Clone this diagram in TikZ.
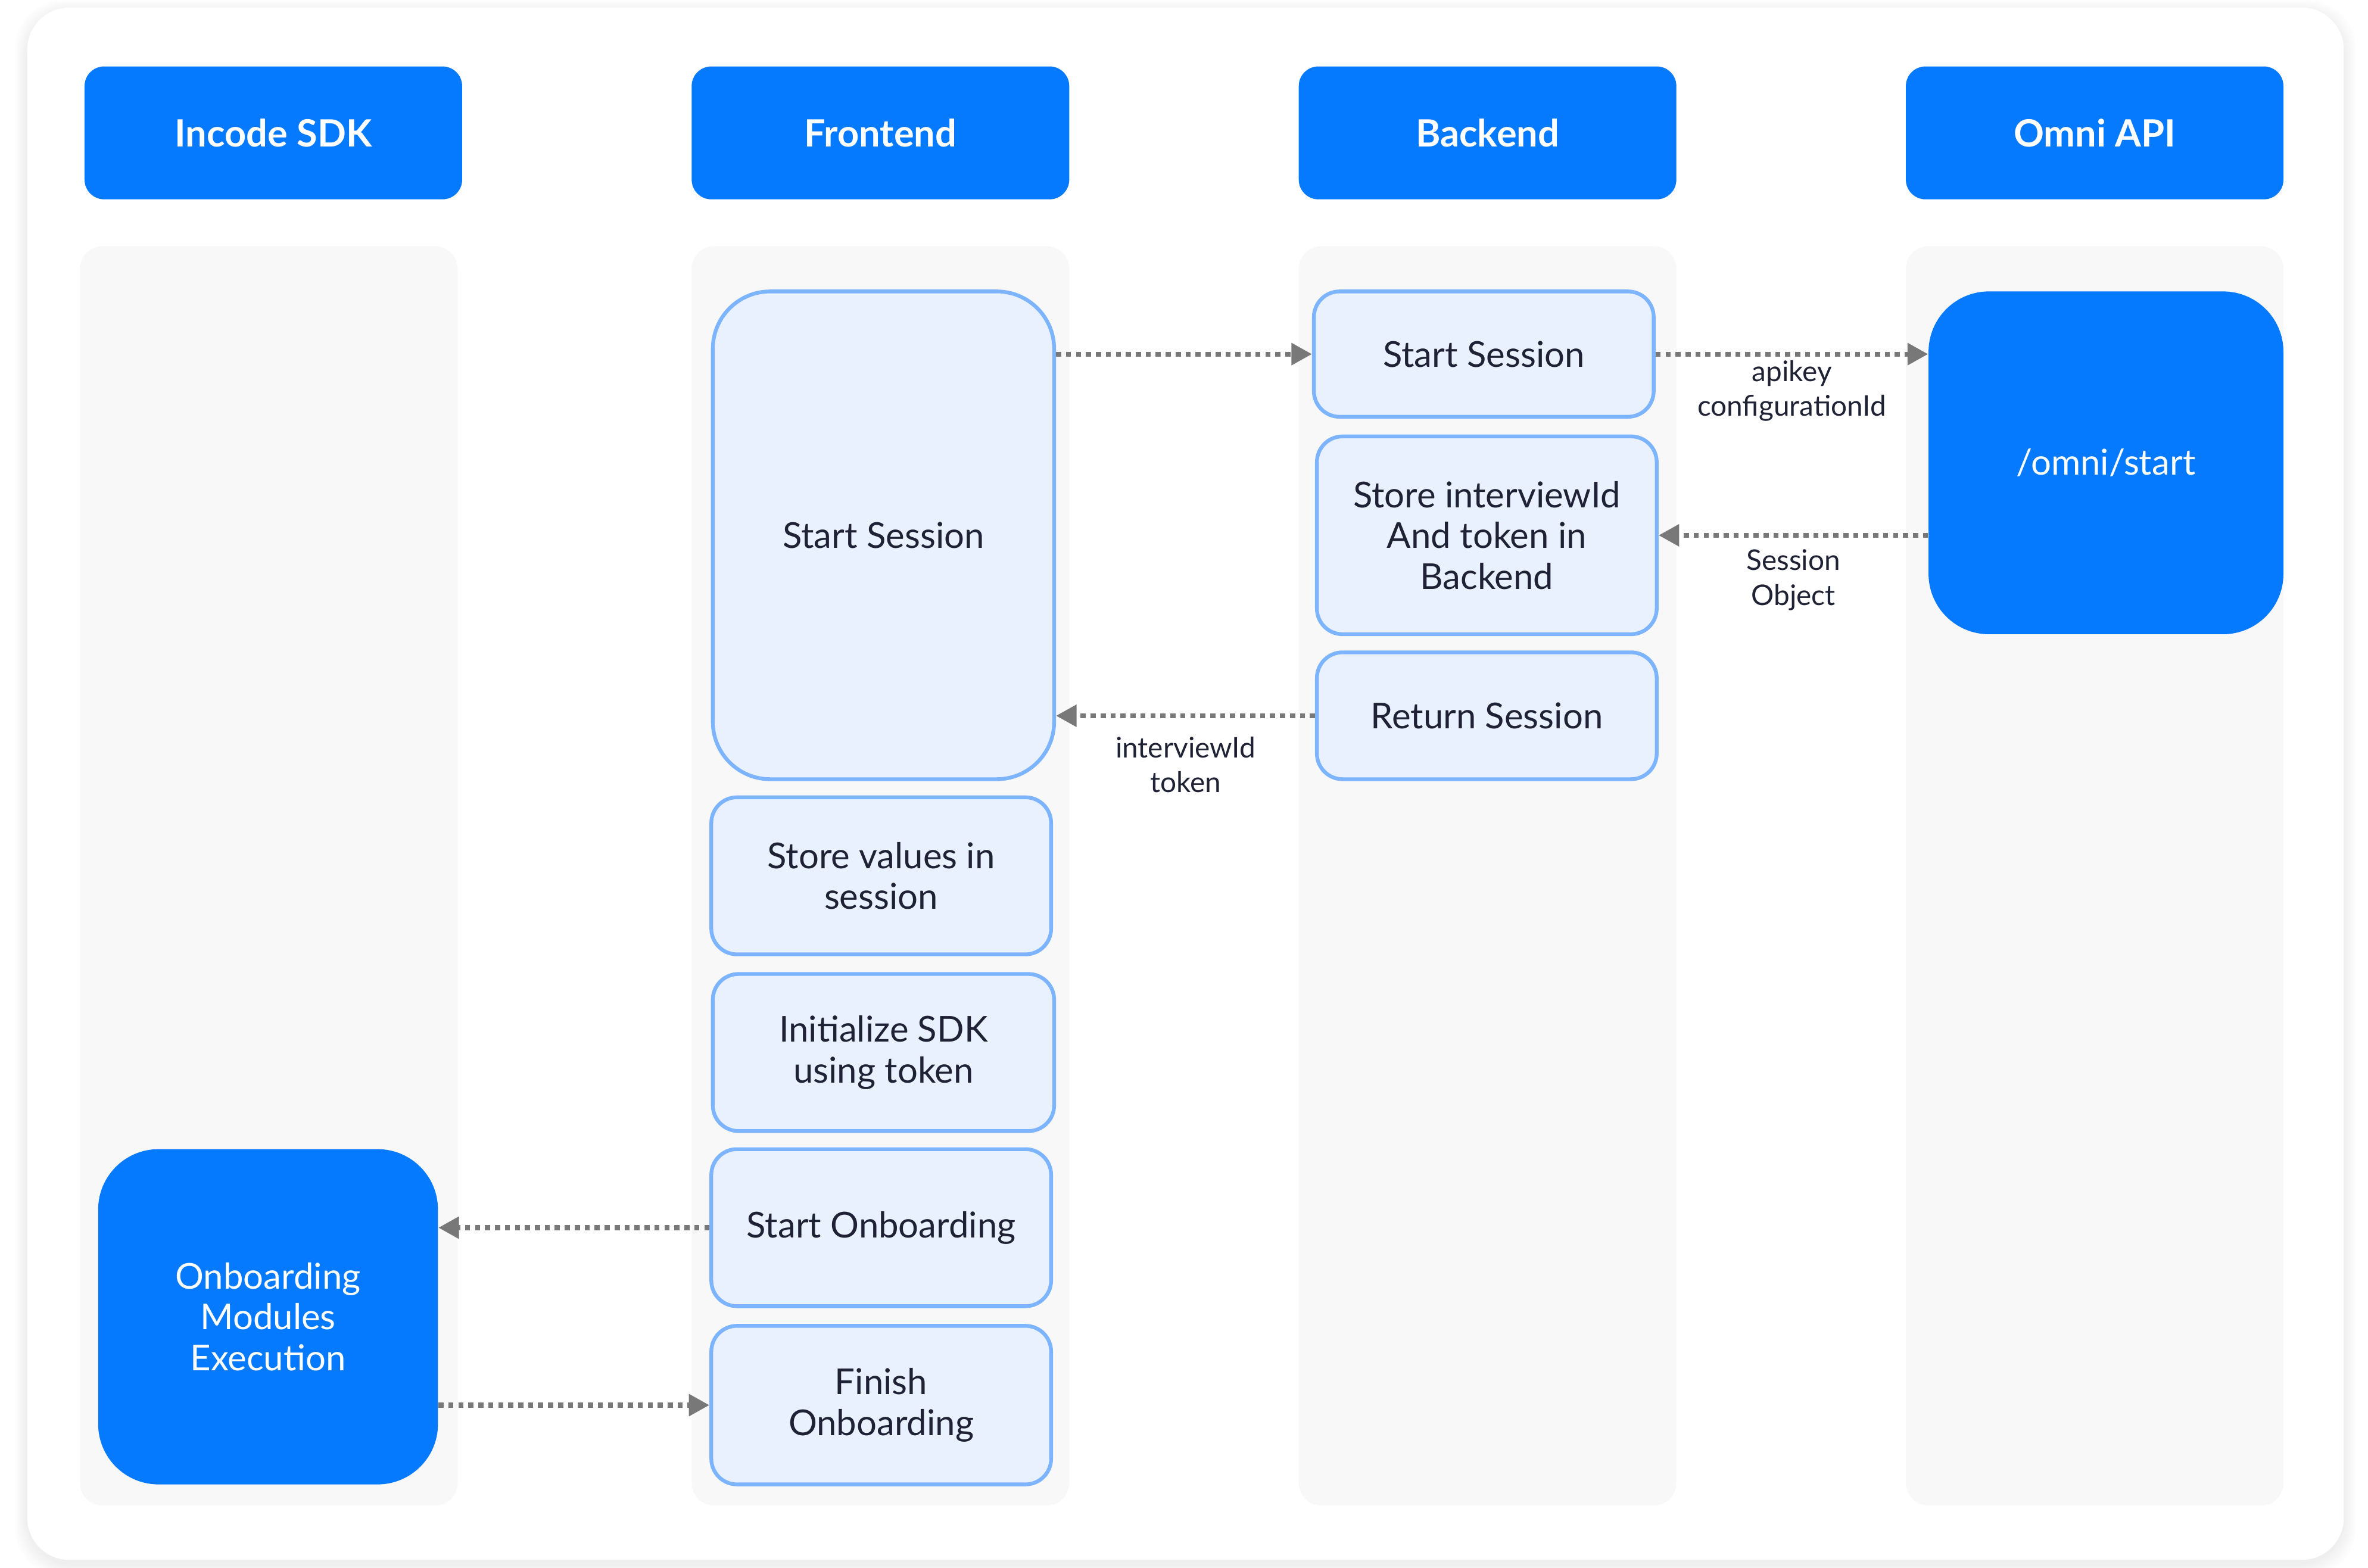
\documentclass[tikz,border=0pt]{standalone}
\usepackage{fontspec}
\setmainfont{Lato}
\usetikzlibrary{arrows.meta}
\definecolor{hdrblue}{RGB}{5,122,255}
\definecolor{lanegray}{RGB}{248,248,248}
\definecolor{boxfill}{RGB}{234,241,254}
\definecolor{boxline}{RGB}{124,180,255}
\definecolor{txt}{RGB}{30,34,52}
\definecolor{arrgray}{RGB}{120,120,120}
\tikzset{
  head/.style={fill=hdrblue, rounded corners=3.25mm, minimum width=62.5mm, minimum height=22mm, text=white, font=\fontsize{17.7}{21}\selectfont\bfseries},
  lane/.style={fill=lanegray, rounded corners=3.75mm, minimum width=62.5mm, minimum height=208.5mm},
  box/.style={draw=boxline, line width=0.625mm, fill=boxfill, rounded corners=4.25mm, minimum width=56.25mm, minimum height=26mm, align=center, text=txt, font=\fontsize{16.8}{19.2}\selectfont},
  bluebox/.style={fill=hdrblue, rounded corners=10mm, minimum width=56.25mm, align=center, text=white, font=\fontsize{16.8}{19.2}\selectfont},
  lbl/.style={align=center, text=txt, font=\fontsize{13.4}{16.3}\selectfont},
  arr/.style={-{Triangle[length=3.4mm, width=3.5mm]}, color=arrgray, line width=0.8mm, dash pattern=on 0.85mm off 0.8mm},
}

\begin{document}
\begin{tikzpicture}[x=0.25mm, y=-0.25mm]
  \useasboundingbox (0,0) rectangle (1568,1038);
  \fill[white] (0,0) rectangle (1568,1038);
  % card with soft shadow
  \foreach \i in {1,...,8}
    \fill[black, opacity=0.007, rounded corners=8mm] (18-\i,5-\i+3) rectangle (1552+\i,1033+\i+3);
  \fill[white, rounded corners=7mm] (18,5) rectangle (1552,1033);

  % lanes
  \node[lane] (sdklane) at (178,580) {};
  \node[lane] (frontlane) at (583,580) {};
  \node[lane] (backlane) at (985,580) {};
  \node[lane] (omnilane) at (1387,580) {};

  % headers
  \node[head] (sdk) at (181,88) {Incode SDK};
  \node[head] (front) at (583,88) {Frontend};
  \node[head] (back) at (985,88) {Backend};
  \node[head] (omni) at (1387,88) {Omni API};

  % frontend steps
  \node[box, rounded corners=9.5mm, minimum width=56.5mm, minimum height=80.75mm] (fstart) at (585,354.5) {Start Session};
  \node[box] (fstore) at (583.5,580) {Store values in\\session};
  \node[box, minimum width=56.5mm] (finit) at (585,697) {Initialize SDK\\using token};
  \node[box] (fonb) at (583.5,813) {Start Onboarding};
  \node[box, minimum height=26.25mm] (ffin) at (583.5,930.5) {Finish\\Onboarding};

  % backend steps
  \node[box, minimum height=20.75mm] (bstart) at (982.5,234.5) {Start Session};
  \node[box, minimum height=32.75mm] (bstore) at (984.5,354.5) {Store interviewId\\And token in\\Backend};
  \node[box, minimum height=21mm] (bret) at (984.5,474) {Return Session};

  % api and sdk
  \node[bluebox, minimum width=58.75mm, minimum height=56.75mm] (ostart) at (1394.5,306.5) {/omni/start};
  \node[bluebox, minimum height=55.5mm] (modules) at (177.5,872) {Onboarding\\Modules\\Execution};

  % calls
  \draw[arr] (fstart.east |- bstart.west) -- (bstart.west);
  \draw[arr] (bstart.east) -- (bstart.east -| ostart.west)
    node[lbl, midway, yshift=-6.1mm] {apikey\\configurationId};
  \draw[arr] (ostart.west |- bstore.east) -- (bstore.east)
    node[lbl, midway, yshift=-7.4mm] {Session\\Object};
  \draw[arr] (bret.west) -- (bret.west -| fstart.east)
    node[lbl, midway, yshift=-8.1mm] {interviewId\\token};
  \draw[arr] (fonb.west) -- (fonb.west -| modules.east);
  \draw[arr] (modules.east |- ffin.west) -- (ffin.west);
\end{tikzpicture}
\end{document}
